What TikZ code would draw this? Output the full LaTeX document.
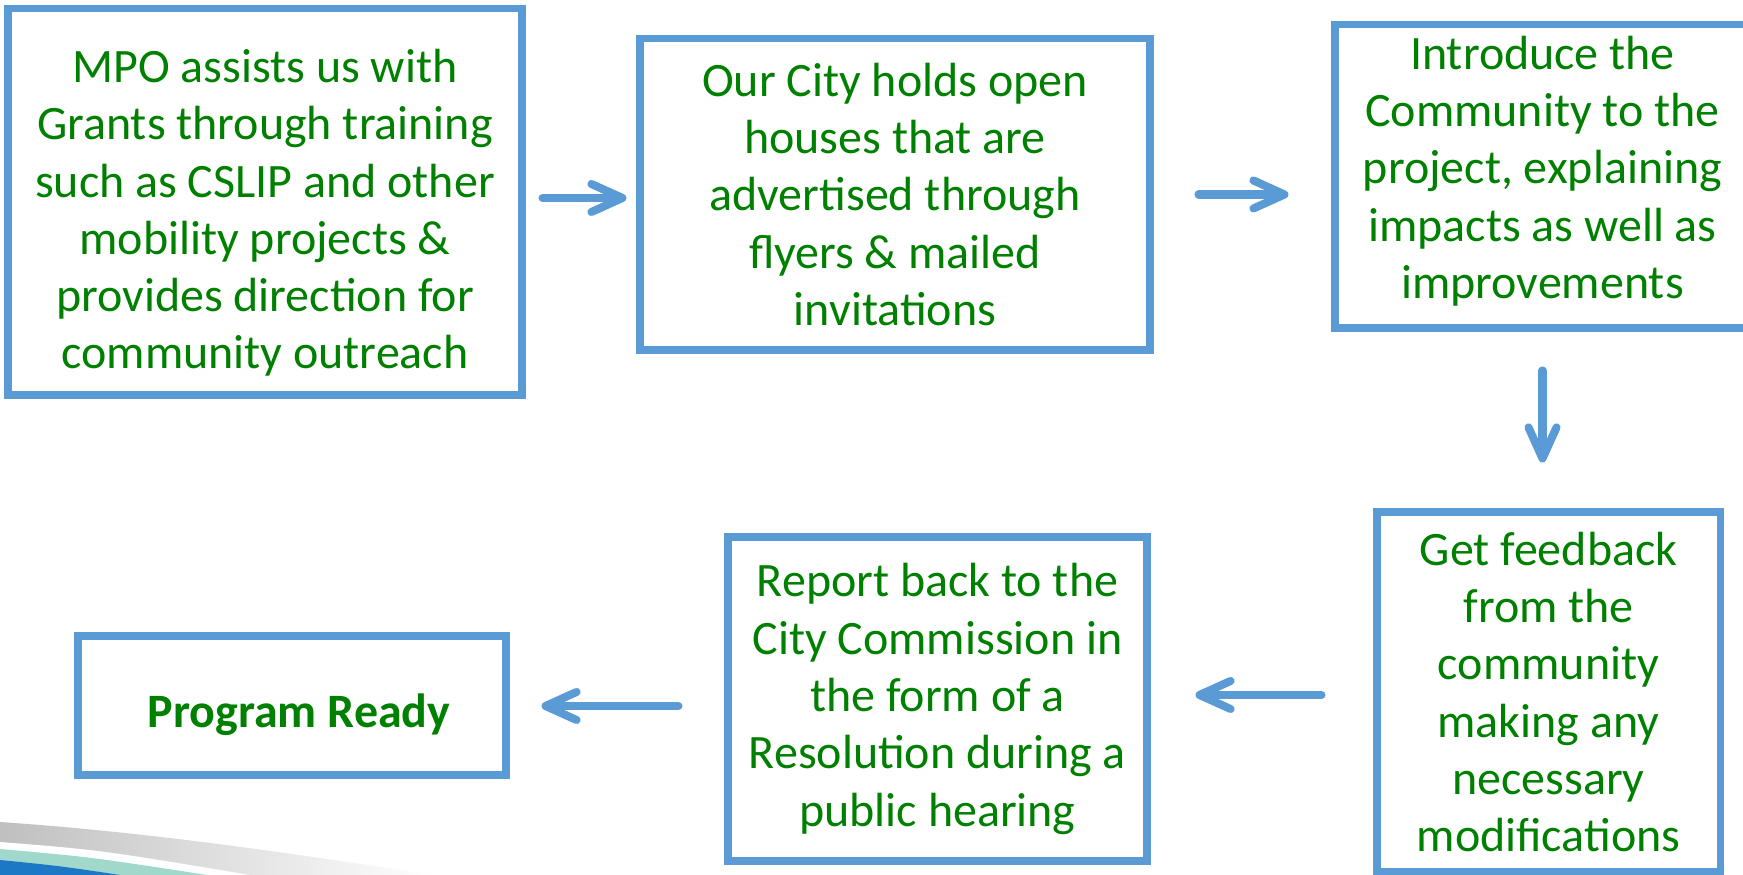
\documentclass[tikz,border=0pt]{standalone}
\usepackage{fontspec}
\setmainfont{Carlito}
\usepackage{tikz}
\usetikzlibrary{arrows.meta}

\definecolor{boxblue}{RGB}{91,155,213}
\definecolor{textgreen}{RGB}{0,128,0}
\definecolor{swooshmint}{RGB}{160,216,204}
\definecolor{swooshblue}{RGB}{28,120,196}

\tikzset{
  stepbox/.style={draw=boxblue, line width=2pt, inner sep=0pt},
  steptext/.style={text=textgreen, align=center, inner sep=0pt,
    font=\fontsize{13.65}{16.3}\selectfont},
  flow/.style={draw=boxblue, line width=2.3pt, line cap=round,
    -{Straight Barb[length=3.1mm, width=2.8mm, round]}}
}

\begin{document}
\begin{tikzpicture}
      \useasboundingbox (0, 0) rectangle (17.43, 8.75);
      % corner swoosh
      \shade[left color=gray!50, right color=white] (0, 0.53) .. controls (1.6, 0.42) and (3.0, 0.2) .. (4.35, 0) -- (0, 0) -- cycle;
      \fill[white] (0, 0.33) .. controls (1.0, 0.25) .. (2.5, 0) -- (0, 0) -- cycle;
      \fill[swooshmint] (0, 0.26) .. controls (0.9, 0.18) .. (2.07, 0) -- (0, 0) -- cycle;
      \fill[swooshblue] (0, 0.15) .. controls (0.6, 0.09) .. (1.2, 0) -- (0, 0) -- cycle;
      % top row
      \node[stepbox, minimum width=5.14cm, minimum height=3.86cm] (mpo) at (2.65, 6.73) {};
      \node[steptext] (mpotext) at ([yshift=-0.11cm]mpo.center)
        {MPO assists us with\\Grants through training\\such as CSLIP and other\\mobility projects \&\\provides direction for\\community outreach};
      \node[stepbox, minimum width=5.10cm, minimum height=3.11cm] (openhouse) at (8.95, 6.805) {};
      \node[steptext] (openhousetext) at (openhouse.center)
        {Our City holds open\\houses that are\\advertised through\\flyers \& mailed\\invitations};
      \node[stepbox, minimum width=4.15cm, minimum height=3.03cm] (introduce) at (15.425, 6.985) {};
      \node[steptext] (introducetext) at ([yshift=0.055cm]introduce.center)
        {Introduce the\\Community to the\\project, explaining\\impacts as well as\\improvements};
      % bottom row
      \node[stepbox, minimum width=3.43cm, minimum height=3.60cm] (feedback) at (15.485, 1.83) {};
      \node[steptext] (feedbacktext) at (feedback.center)
        {Get feedback\\from the\\community\\making any\\necessary\\modifications};
      \node[stepbox, minimum width=4.19cm, minimum height=3.24cm] (report) at (9.375, 1.76) {};
      \node[steptext] (reporttext) at (report.center)
        {Report back to the\\City Commission in\\the form of a\\Resolution during a\\public hearing};
      \node[stepbox, minimum width=4.28cm, minimum height=1.39cm] (ready) at (2.92, 1.695) {};
      \node[steptext, font=\fontsize{13.65}{16.3}\selectfont\bfseries] (readytext) at ([xshift=0.07cm, yshift=-0.09cm]ready.center)
        {Program Ready};
      % arrows
      \draw[flow, shorten <=0.17cm, shorten >=0.1cm] ([yshift=0.04cm]mpo.east) -- ([yshift=0.04cm]mpo.east -| openhouse.west);
      \draw[flow, shorten <=0.45cm, shorten >=0.43cm] (openhouse) -- (openhouse -| introduce.west);
      \draw[flow, shorten <=0.39cm, shorten >=0.46cm] (introduce.south) -- (introduce.south |- feedback.north);
      \draw[flow, shorten <=0.52cm, shorten >=0.45cm] ([yshift=-0.03cm]feedback.west) -- ([yshift=-0.03cm]feedback.west -| report.east);
      \draw[flow, shorten <=0.46cm, shorten >=0.32cm] ([yshift=-0.07cm]report.west) -- ([yshift=-0.07cm]report.west -| ready.east);
    \end{tikzpicture}
\end{document}
